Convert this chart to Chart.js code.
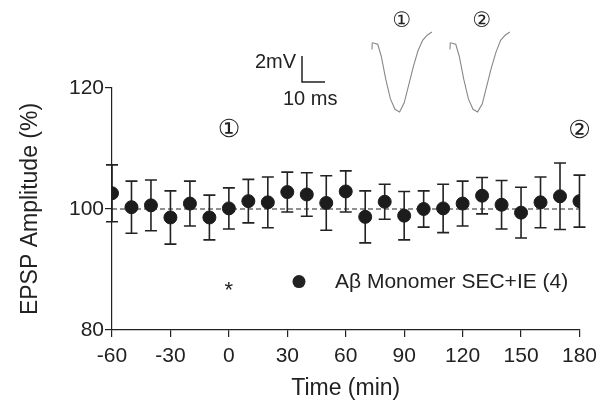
<!DOCTYPE html>
<html>
<head>
<meta charset="utf-8">
<script src="https://cdn.jsdelivr.net/npm/chart.js@4.4.1/dist/chart.umd.min.js"></script>
<style>
html, body { margin: 0; padding: 0; background: #fff; }
</style>
</head>
<body>
<canvas id="myChart" width="604" height="412"></canvas>
<script>
// time points (min), mean EPSP amplitude (%) and error bars
var times = [-60, -50, -40, -30, -20, -10, 0, 10, 20, 30, 40, 50, 60, 70, 80, 90, 100, 110, 120, 130, 140, 150, 160, 170, 180];
var amplitude = [102.6, 100.3, 100.6, 98.6, 100.9, 98.6, 100.1, 101.3, 101.1, 102.8, 102.4, 101.0, 102.9, 98.7, 101.2, 98.9, 100.0, 100.1, 100.9, 102.2, 100.7, 99.4, 101.1, 102.1, 101.3];
var errors = [4.7, 4.3, 4.2, 4.4, 3.7, 3.7, 3.4, 3.6, 4.2, 3.3, 3.6, 4.5, 3.4, 4.3, 2.9, 4.0, 3.0, 4.0, 3.7, 3.0, 4.0, 4.2, 4.2, 5.5, 4.3];
var xTicks = [-60, -30, 0, 30, 60, 90, 120, 150, 180];
var yTicks = [80, 100, 120];
var legendLabel = 'A\u03b2 Monomer SEC+IE (4)';

// example EPSP traces (ms, mV) for the inset at time 1 and 2
var traceMs = [0, 0.1, 0.6, 2.5, 4, 6, 8, 10, 12, 14, 16, 18, 20, 22, 24, 26];
var traceMv1 = [-0.5, 0, 0, -0.1, -1.0, -2.8, -4.3, -5.1, -5.3, -4.6, -3.2, -1.8, -0.6, 0.2, 0.6, 0.85];
var traceMv2 = [-0.5, 0, 0, -0.1, -1.0, -2.8, -4.3, -5.1, -5.3, -4.7, -3.3, -1.9, -0.7, 0.2, 0.6, 0.85];

var ink = '#222';
var font = 'Liberation Sans, Arial, sans-serif';

var points = [];
for (var i = 0; i < times.length; i++) {
    points.push({x: times[i], y: amplitude[i]});
}

var extras = {
    id: 'extras',
    beforeDatasetsDraw: function (chart) {
        var ctx = chart.ctx;
        var xs = chart.scales.x, ys = chart.scales.y;
        // dashed baseline at 100%
        ctx.save();
        ctx.strokeStyle = ink;
        ctx.lineWidth = 1.2;
        ctx.setLineDash([5, 3]);
        ctx.beginPath();
        ctx.moveTo(xs.getPixelForValue(-60), ys.getPixelForValue(100));
        ctx.lineTo(xs.getPixelForValue(180), ys.getPixelForValue(100));
        ctx.stroke();
        ctx.setLineDash([]);
        // error bars
        ctx.lineWidth = 1.6;
        for (var i = 0; i < times.length; i++) {
            var px = xs.getPixelForValue(times[i]);
            var top = ys.getPixelForValue(amplitude[i] + errors[i]);
            var bot = ys.getPixelForValue(amplitude[i] - errors[i]);
            ctx.beginPath();
            ctx.moveTo(px, top); ctx.lineTo(px, bot);
            ctx.moveTo(px - 6, top); ctx.lineTo(px + 6, top);
            ctx.moveTo(px - 6, bot); ctx.lineTo(px + 6, bot);
            ctx.stroke();
        }
        ctx.restore();
    },
    afterDraw: function (chart) {
        var ctx = chart.ctx;
        var xs = chart.scales.x, ys = chart.scales.y;
        ctx.save();
        ctx.fillStyle = ink;
        ctx.textBaseline = 'middle';
        ctx.textAlign = 'center';
        // circled markers above time 0 and 180
        ctx.font = '25px DejaVu Sans, sans-serif';
        ctx.fillText('\u2460', xs.getPixelForValue(0), ys.getPixelForValue(113));
        ctx.fillText('\u2461', xs.getPixelForValue(180), ys.getPixelForValue(112.8));
        ctx.font = '21px DejaVu Sans, sans-serif';
        ctx.fillText('\u2460', 402, 22);
        ctx.fillText('\u2461', 482, 22);
        // asterisk
        ctx.font = '22px ' + font;
        ctx.fillText('*', xs.getPixelForValue(0), ys.getPixelForValue(86.4));
        // legend
        var lx = xs.getPixelForValue(36), ly = ys.getPixelForValue(88);
        ctx.beginPath();
        ctx.arc(lx, ly, 6.5, 0, Math.PI * 2);
        ctx.fill();
        ctx.textAlign = 'left';
        ctx.font = '21px ' + font;
        ctx.fillText(legendLabel, lx + 36, ly + 1);
        // scale bar
        ctx.strokeStyle = ink;
        ctx.lineWidth = 1.5;
        ctx.beginPath();
        ctx.moveTo(302, 56); ctx.lineTo(302, 82); ctx.lineTo(325, 82);
        ctx.stroke();
        ctx.font = '20px ' + font;
        ctx.textAlign = 'right';
        ctx.fillText('2mV', 296, 62);
        ctx.textAlign = 'left';
        ctx.fillText('10 ms', 283, 99);
        // traces (2.3 px per ms, 13 px per mV)
        ctx.strokeStyle = '#888';
        ctx.lineWidth = 1.1;
        [[372, traceMv1], [450, traceMv2]].forEach(function (t) {
            ctx.beginPath();
            for (var k = 0; k < traceMs.length; k++) {
                var px = t[0] + traceMs[k] * 2.3;
                var py = 43 - t[1][k] * 13;
                if (k === 0) ctx.moveTo(px, py); else ctx.lineTo(px, py);
            }
            ctx.stroke();
        });
        ctx.restore();
    }
};

var chart = new Chart(document.getElementById('myChart'), {
    type: 'scatter',
    data: {
        datasets: [{
            label: legendLabel,
            data: points,
            backgroundColor: '#1c1c1c',
            borderColor: '#1c1c1c',
            pointRadius: 6.5,
            pointHoverRadius: 6.5
        }]
    },
    options: {
        responsive: false,
        animation: false,
        layout: { padding: { left: 0, right: 24, top: 88, bottom: 0 } },
        plugins: { legend: { display: false }, tooltip: { enabled: false } },
        scales: {
            x: {
                type: 'linear',
                min: -60, max: 180,
                afterFit: function (s) { s.height = 82; },
                afterBuildTicks: function (s) { s.ticks = xTicks.map(function (v) { return {value: v}; }); },
                ticks: { color: ink, font: { family: font, size: 21 }, padding: 7 },
                grid: { drawOnChartArea: false, drawTicks: true, tickLength: 7, color: ink, lineWidth: 1.2 },
                border: { color: ink, width: 1.2 },
                title: { display: true, text: 'Time (min)', color: ink, font: { family: font, size: 23 }, padding: { top: 0, bottom: 10 } }
            },
            y: {
                min: 80, max: 120,
                afterFit: function (s) { s.width = 112; },
                afterBuildTicks: function (s) { s.ticks = yTicks.map(function (v) { return {value: v}; }); },
                ticks: { color: ink, font: { family: font, size: 21 }, padding: 1 },
                grid: { drawOnChartArea: false, drawTicks: true, tickLength: 7, color: ink, lineWidth: 1.2 },
                border: { color: ink, width: 1.2 },
                title: { display: true, text: 'EPSP Amplitude (%)', color: ink, font: { family: font, size: 23 }, padding: { top: 17, bottom: 0 } }
            }
        }
    },
    plugins: [extras]
});
</script>
</body>
</html>
